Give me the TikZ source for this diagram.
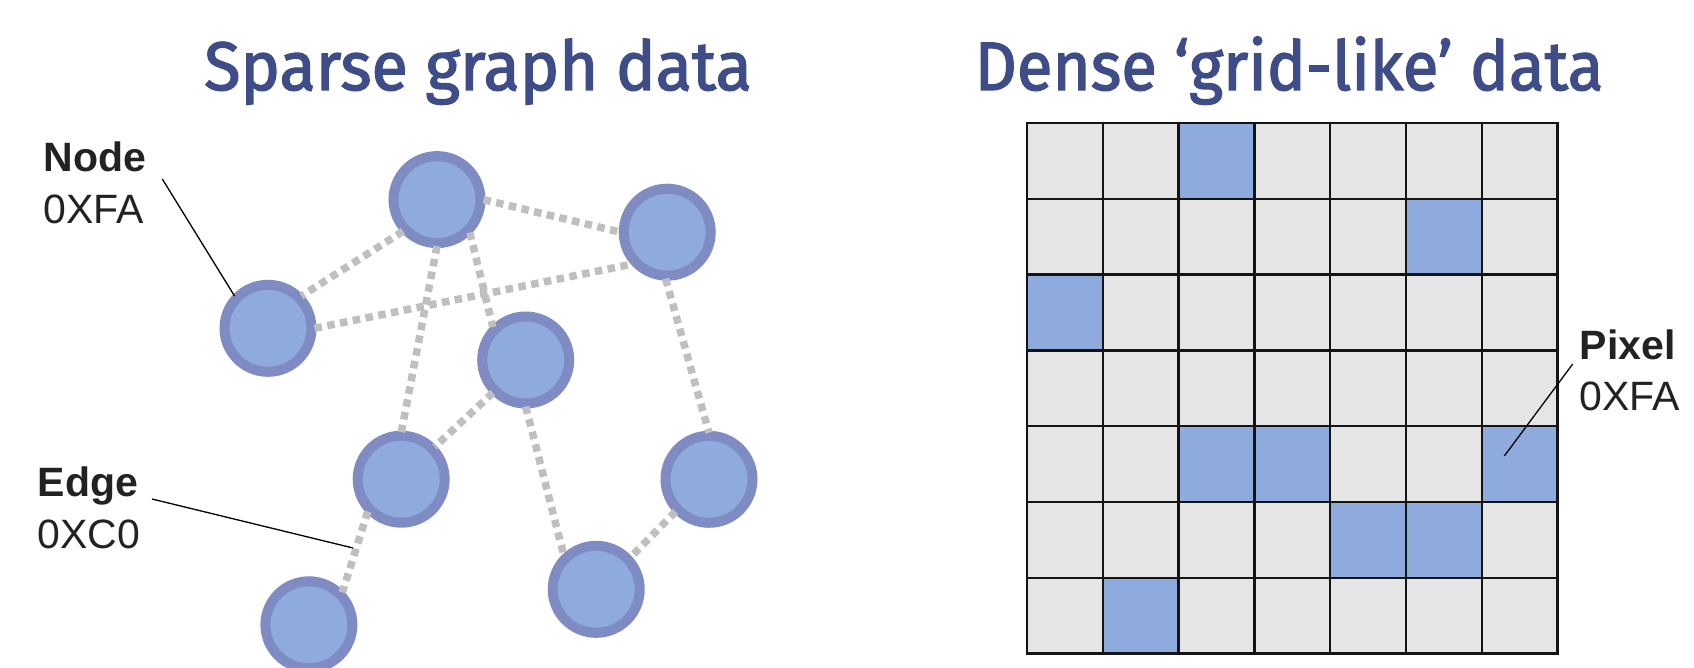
\documentclass[tikz,border=0pt]{standalone}
\usepackage{fontspec}
\setmainfont{Liberation Sans}
\newfontfamily\titlefont{Fira Sans}[FakeBold=2]
\definecolor{titleblue}{RGB}{62,76,135}
\definecolor{ringblue}{RGB}{127,140,196}
\definecolor{fillblue}{RGB}{143,170,220}
\definecolor{edgegray}{RGB}{191,191,191}
\definecolor{cellgray}{RGB}{229,229,229}
\definecolor{labelink}{RGB}{34,34,34}
\tikzset{
  heading/.style={font=\titlefont\fontsize{68.6}{80}\selectfont, text=titleblue,
    anchor=base, inner sep=0pt},
  lbl/.style={font=\fontsize{41}{49}\selectfont, text=labelink, anchor=base west, inner sep=0pt},
  lblbold/.style={lbl, font=\fontsize{41}{49}\selectfont\bfseries},
  gnode/.style={circle, draw=ringblue, fill=fillblue, line width=10pt,
    minimum size=87pt, inner sep=0pt, outer sep=3pt},
  gedge/.style={draw=edgegray, line width=7.5pt, dash pattern=on 7.5pt off 5.5pt},
  leader/.style={draw=black, line width=1.3pt},
  cellbox/.style={fill=cellgray},
  pixbox/.style={fill=fillblue},
  gridline/.style={draw=black!92, line width=2.4pt},
}
\begin{document}
\begin{tikzpicture}[x=1pt,y=-1pt]
\useasboundingbox (0,0) rectangle (1694,668);

% headings
\node[heading] (sparsetitle) at (478,90) {\scalebox{0.971}[1]{Sparse graph data}};
\node[heading] (densetitle) at (1289,90) {\scalebox{0.953}[1]{Dense ‘grid-like’ data}};

% ---------- sparse graph ----------
\node[gnode] (A) at (437,199.6) {};
\node[gnode] (B) at (667.2,232.2) {};
\node[gnode] (C) at (268,328.3) {};
\node[gnode] (D) at (525.7,360) {};
\node[gnode] (E) at (401.2,479.2) {};
\node[gnode] (F) at (709,479.3) {};
\node[gnode] (G) at (596.2,589.3) {};
\node[gnode] (H) at (308.9,624.8) {};

\draw[gedge] (A.223) -- (C.44);
\draw[gedge] (A.0) -- (B.180);
\draw[gedge] (C.0) -- (B.223);
\draw[gedge] (A.270) -- (E.90);
\draw[gedge] (A.315) -- (D.135);
\draw[gedge] (D.225) -- (E.44);
\draw[gedge] (D.270) -- (G.134);
\draw[gedge] (B.268) -- (F.90);
\draw[gedge] (E.224) -- (H.44);
\draw[gedge] (F.224) -- (G.43);

% node label
\node[lblbold] (nodename) at (43.5,171.7) {Node};
\node[lbl] (nodeval) at (43.5,223.3) {0XFA};
\coordinate (nodetail) at (162.3,179);
\draw[leader] (nodetail) -- (C.136);

% edge label
\node[lblbold] (edgename) at (37.5,496.7) {Edge};
\node[lbl] (edgeval) at (37.5,548.3) {0XC0};
\coordinate (edgetail) at (152,499);
\path (E.224) -- (H.44) coordinate[pos=0.45] (edgehit);
\draw[leader] (edgetail) -- ([xshift=-3.5pt]edgehit);

% ---------- pixel grid ----------
\def\gx{1027}
\def\gy{123}
\def\cs{75.8}
\foreach \r in {0,...,6}
  \foreach \c in {0,...,6}
    \fill[cellbox] (\gx+\c*\cs,\gy+\r*\cs) rectangle ++(\cs,\cs);
\foreach \r/\c in {0/2, 1/5, 2/0, 4/2, 4/3, 4/6, 5/4, 5/5, 6/1}
  \fill[pixbox] (\gx+\c*\cs,\gy+\r*\cs) rectangle ++(\cs,\cs);
\foreach \i in {0,...,7} {
  \draw[gridline] (\gx+\i*\cs,\gy-1.2) -- (\gx+\i*\cs,\gy+7*\cs+1.2);
  \draw[gridline] (\gx-1.2,\gy+\i*\cs) -- (\gx+7*\cs+1.2,\gy+\i*\cs);
}

% pixel label
\node[lblbold] (pixelname) at (1579.5,359.3) {Pixel};
\node[lbl] (pixelval) at (1579.5,410) {0XFA};
\coordinate (pixeltail) at (1572.7,364);
\coordinate (pixelhit) at (1504.3,456);
\draw[leader] (pixeltail) -- (pixelhit);
\end{tikzpicture}
\end{document}
